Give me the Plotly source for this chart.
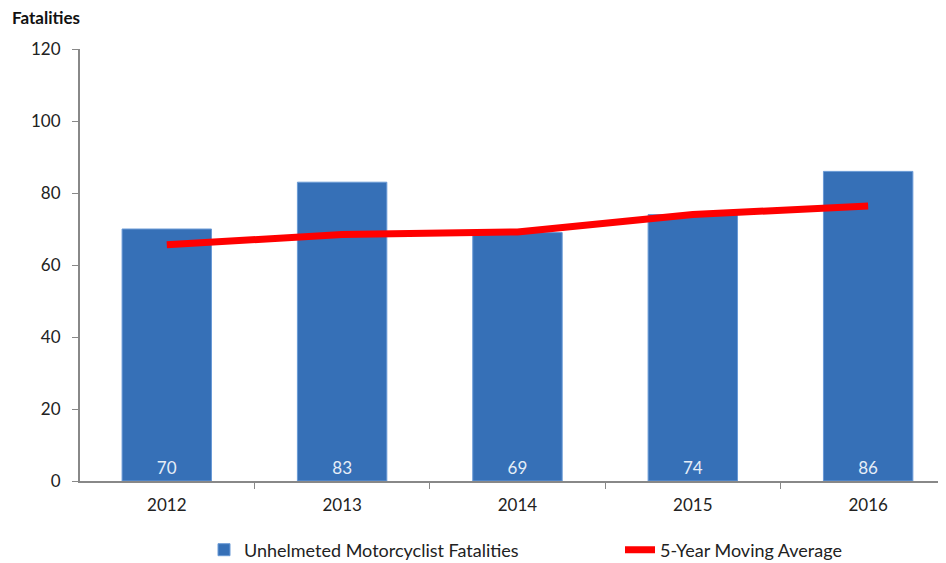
import plotly.graph_objects as go

years = ["2012", "2013", "2014", "2015", "2016"]
fatalities = [70, 83, 69, 74, 86]
moving_avg = [65.6, 68.5, 69.2, 74.0, 76.4]

# page body has an 8px margin, so the figure is drawn 8px smaller and offset
W, H = 938, 555

fig = go.Figure()

fig.add_trace(go.Bar(
    x=years,
    y=fatalities,
    name="Unhelmeted Motorcyclist Fatalities",
    marker=dict(color="#3670B7", line=dict(color="#6A9AD6", width=1)),
    width=0.51,
    text=[str(v) for v in fatalities],
    textposition="inside",
    insidetextanchor="start",
    textfont=dict(color="#E6EEF7", size=17),
    textangle=0,
    legend="legend",
))

fig.add_trace(go.Scatter(
    x=years,
    y=moving_avg,
    name="5-Year Moving Average",
    mode="lines",
    line=dict(color="#FF0000", width=7),
    legend="legend2",
))

legend_style = dict(
    orientation="h", xref="container", yref="container",
    yanchor="middle", font=dict(size=18, color="#222222"),
    bgcolor="rgba(0,0,0,0)", itemwidth=30,
)

fig.update_layout(
    width=W,
    height=H,
    margin=dict(l=72, r=0, t=41, b=82, autoexpand=False),
    paper_bgcolor="white",
    plot_bgcolor="white",
    font=dict(family="Lato, Open Sans, sans-serif", size=17, color="#222222"),
    showlegend=True,
    legend=dict(x=196 / W, y=13 / H, **legend_style),
    legend2=dict(x=612 / W, y=13 / H, **legend_style),
    annotations=[dict(
        text="<b>Fatalities</b>", xref="paper", yref="paper",
        x=-0.081, y=1.074, xanchor="left", yanchor="middle",
        showarrow=False, font=dict(size=17, color="#111111"),
    )],
)

fig.update_yaxes(
    range=[0, 120], dtick=20, showgrid=False, zeroline=False,
    showline=True, linecolor="#888888", linewidth=2,
    ticks="outside", ticklen=6, tickcolor="#888888", tickwidth=1,
    ticklabelstandoff=8,
)
fig.update_xaxes(
    range=[-0.495, 4.444],
    showgrid=False, showline=True, linecolor="#888888", linewidth=2,
    ticks="outside", ticklen=6, tickcolor="#888888", tickson="boundaries",
    ticklabelstandoff=8,
)

fig.write_html("out.html")
